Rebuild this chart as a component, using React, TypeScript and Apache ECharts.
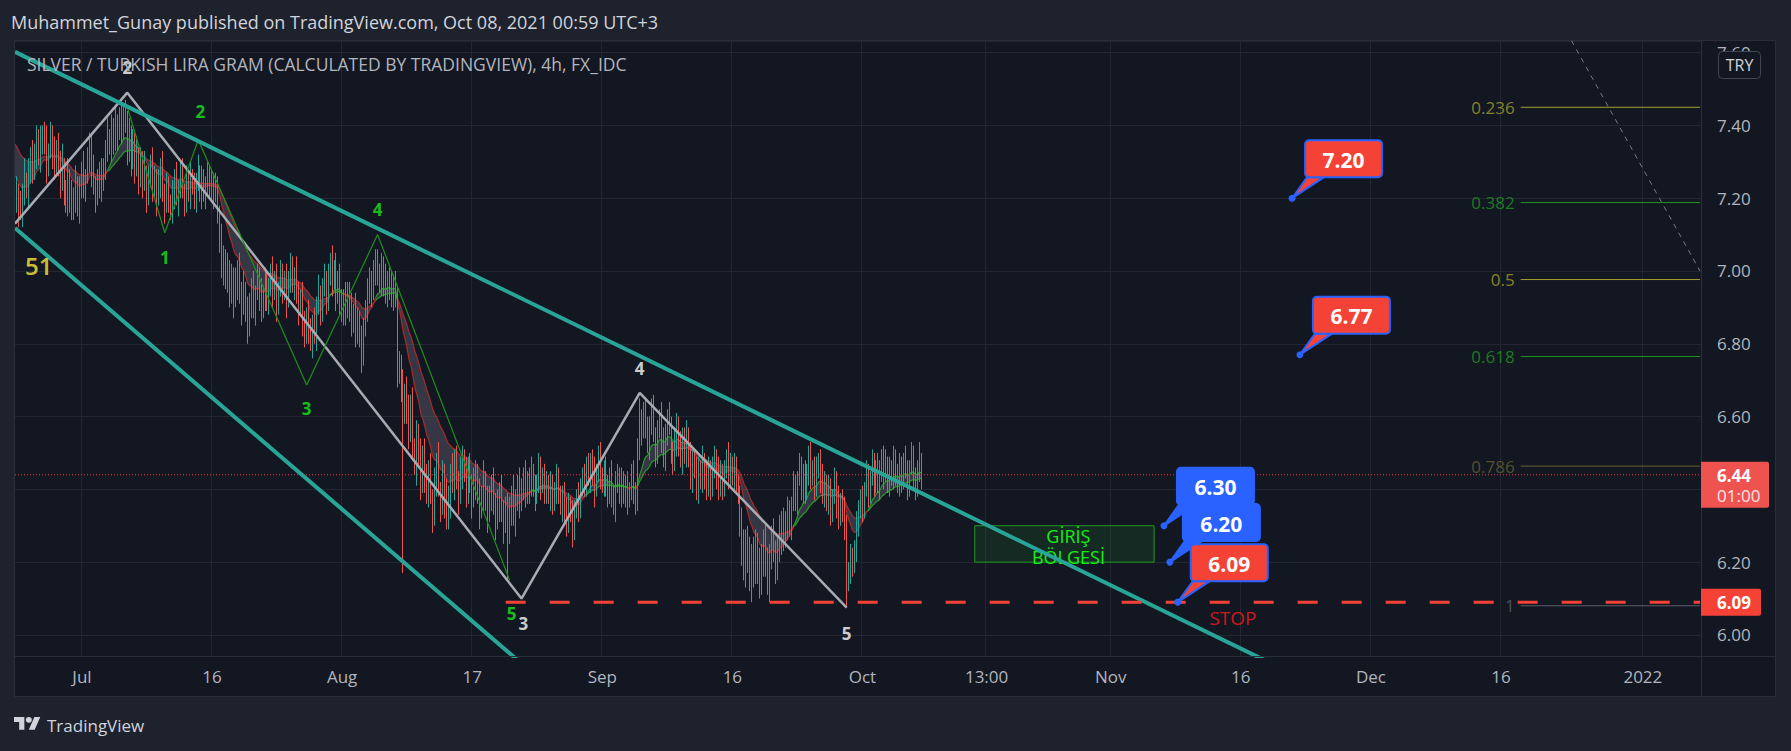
import React, { useEffect, useRef } from "react";
import * as echarts from "echarts";

const FONT = "'Open Sans', 'Noto Sans', sans-serif";

// ---- candle data (hundredths of TRY), 4h bars from 2021-06-23 08:00 ----
const openFirst = 722;
const closeC = [
  719, 722, 717, 716, 721, 725, 722, 727, 731, 728,
  733, 736, 731, 735, 738, 734, 729, 733, 737, 732,
  728, 734, 730, 725, 729, 722, 718, 726, 721, 716,
  720, 724, 718, 722, 727, 723, 726, 730, 735, 728,
  724, 720, 723, 727, 724, 729, 733, 737, 734, 739,
  736, 741, 738, 743, 739, 744, 740, 733, 737, 731,
  735, 728, 732, 726, 730, 724, 727, 721, 725, 729,
  723, 726, 720, 724, 728, 722, 718, 723, 719, 716,
  721, 725, 720, 723, 727, 722, 719, 724, 721, 726,
  723, 720, 724, 727, 722, 725, 721, 724, 726, 722,
  725, 721, 723, 716, 709, 701, 704, 697, 700, 694,
  698, 692, 696, 701, 694, 690, 695, 689, 684, 691,
  695, 690, 694, 698, 693, 689, 694, 697, 692, 696,
  700, 694, 697, 691, 695, 699, 695, 698, 692, 697,
  701, 696, 699, 694, 690, 693, 686, 682, 688, 684,
  680, 686, 683, 690, 694, 689, 695, 698, 692, 699,
  703, 697, 700, 694, 698, 692, 688, 693, 689, 694,
  690, 685, 689, 683, 687, 681, 677, 684, 690, 694,
  698, 694, 699, 703, 700, 696, 701, 697, 693, 698,
  696, 692, 697, 694, 671, 674, 668, 661, 667, 662,
  656, 663, 652, 646, 655, 649, 641, 650, 644, 639,
  645, 638, 633, 642, 647, 640, 636, 644, 638, 632,
  637, 645, 641, 648, 643, 638, 644, 649, 645, 640,
  646, 642, 637, 641, 645, 639, 634, 638, 643, 637,
  633, 638, 642, 636, 631, 635, 640, 634, 630, 636,
  628, 634, 639, 632, 637, 642, 636, 640, 644, 639,
  643, 640, 645, 641, 638, 642, 646, 641, 644, 639,
  642, 638, 641, 636, 640, 643, 639, 635, 638, 634,
  631, 636, 633, 629, 634, 638, 635, 640, 644, 641,
  646, 643, 648, 644, 640, 645, 649, 644, 641, 645,
  642, 638, 643, 639, 636, 641, 644, 639, 642, 638,
  641, 637, 640, 644, 640, 636, 651, 660, 656, 661,
  657, 652, 658, 662, 655, 650, 656, 660, 654, 649,
  655, 660, 657, 651, 647, 653, 658, 652, 648, 654,
  650, 655, 648, 643, 649, 645, 640, 646, 642, 648,
  644, 640, 646, 641, 645, 649, 644, 640, 645, 641,
  645, 649, 644, 647, 643, 646, 642, 638, 631, 624,
  618, 626, 621, 615, 622, 617, 625, 619, 614, 621,
  626, 620, 614, 622, 628, 623, 618, 625, 630, 626,
  632, 628, 634, 630, 636, 641, 637, 643, 646, 640,
  644, 639, 645, 649, 643, 646, 641, 645, 648, 643,
  639, 642, 636, 640, 634, 638, 642, 636, 632, 637,
  634, 630, 615, 618, 621, 619, 624, 630, 634, 638,
  635, 640, 644, 639, 643, 647, 642, 646, 641, 645,
  649, 644, 647, 642, 646, 643, 648, 645, 641, 646,
  643, 648, 645, 641, 646, 649, 644, 640, 645, 648, 644,
];
const upWick = [
  3,4,2,5,3,6,2,4,3,5, 2,4,3,5,2,3,6,2,4,3, 5,2,4,3,6,2,3,5,2,4, 3,5,2,4,3,6,2,4,3,3,
  4,2,5,3,4,2,3,5,2,4, 3,4,2,2,3,2,3,4,5,3, 4,3,5,2,4,3,6,2,4,3, 5,3,2,4,3,5,2,4,3,2,
  4,3,5,2,3,4,2,5,3,4, 2,4,3,5,2,4,3,2,4,3, 3,2,4,3,2,4,3,2,5,3, 4,3,5,2,4,3,5,2,4,3,
  3,5,2,4,3,5,2,4,3,2, 2,4,3,5,2,4,3,2,4,3, 4,3,2,5,3,2,4,3,2,4, 3,2,4,3,5,2,3,4,2,3,
  2,4,3,5,2,4,3,2,4,3, 3,4,2,5,3,2,4,3,2,4, 3,2,4,3,3,2,4,3,5,2, 3,4,2,3,2,4,3,5,2,4,
  4,3,5,2,4,3,5,2,4,3, 3,5,2,4,3,6,2,4,3,5, 4,2,5,3,4,2,5,3,2,4, 3,4,2,5,3,2,4,3,5,2,
  4,3,2,4,3,5,2,4,3,2, 3,4,2,5,3,2,4,3,2,4, 2,3,4,2,3,2,4,3,2,3, 3,2,4,3,2,4,3,2,3,4,
  4,3,2,4,3,2,4,3,2,3, 3,4,2,3,5,2,3,4,2,3, 4,2,3,5,2,4,3,2,4,3, 3,4,2,3,4,2,3,5,2,3,
  4,3,2,3,4,2,3,2,4,3, 3,2,4,3,2,4,3,2,4,3, 3,4,2,5,3,2,4,3,2,4, 2,4,3,2,4,3,2,5,3,2,
  3,2,4,3,2,4,3,2,3,4, 5,3,4,6,3,5,4,3,5,4, 3,5,4,3,2,4,3,2,3,4, 3,2,4,3,2,4,3,2,4,3,
  3,4,2,3,4,2,3,4,2,3, 4,3,2,4,3,2,4,3,5,2, 3,4,3,2,4,3,2,4,3,2, 3,2,4,3,2,4,3,2,4,3,
  2,3,4,2,3,2,4,3,2,4, 3,2,4,3,2,4,3,2,3,5,2,
];
const downWick = [
  4,3,5,2,4,3,2,5,3,4, 3,5,2,4,3,2,5,3,2,4, 3,2,4,5,3,4,2,3,5,2, 2,4,3,5,2,3,4,2,3,5,
  3,4,2,3,5,2,4,3,2,4, 4,3,5,2,4,3,2,4,3,5, 3,4,2,5,3,4,2,5,3,2, 4,3,5,2,4,3,5,2,3,2,
  3,4,2,5,3,2,4,3,2,4, 2,3,4,2,3,5,2,4,3,2, 3,4,2,3,4,3,5,2,3,4, 3,5,2,4,3,5,2,3,4,2,
  4,3,5,2,4,3,2,5,3,4, 3,4,2,5,3,2,4,3,5,2, 3,2,4,3,5,2,4,3,2,4, 2,4,3,5,2,4,3,2,4,3,
  3,4,2,5,3,4,2,3,4,2, 4,3,2,4,3,2,5,3,2,4, 3,4,2,3,4,2,3,4,2,3, 4,2,3,4,3,2,4,44,3,4,
  5,3,4,2,5,3,4,2,5,3, 4,2,5,3,4,2,5,3,6,3, 3,5,2,4,3,5,2,4,3,5, 4,3,5,2,4,3,5,2,4,3,
  5,2,4,3,5,2,4,3,5,2, 13,3,4,2,5,3,4,2,3,4, 3,4,2,3,4,2,3,4,2,3, 3,2,4,3,2,4,3,2,4,3,
  4,3,2,5,3,2,4,3,2,3, 3,2,4,3,5,2,3,4,2,3, 4,3,2,4,3,5,2,3,4,2, 3,4,2,3,4,3,2,3,4,2,
  3,2,4,3,2,4,3,2,4,3, 4,3,2,4,3,2,4,3,2,4, 3,4,2,3,4,2,3,4,2,3, 4,3,2,4,3,2,4,3,2,4,
  3,2,4,3,2,4,3,2,4,5, 3,5,4,3,6,4,3,5,4,3, 5,4,3,5,4,3,4,3,5,4, 3,4,2,3,4,2,3,4,2,3,
  4,3,2,4,3,2,4,3,2,4, 3,4,2,3,4,3,2,4,3,2, 3,4,7,3,4,3,2,4,3,2, 4,3,2,4,3,2,4,3,2,4,
  3,4,2,3,4,2,3,4,2,3, 4,3,2,4,3,2,4,3,2,3,4,
];

// ribbon (two EMAs of close)
const emaFastLen = 14;
const emaSlowLen = 30;
const emaFastSeed = 7.27;
const emaSlowSeed = 7.36;

// ---- axes ----
const barCount = 856;
const xTickKeys = [
  "2021-07-01 00:00", "2021-07-16 00:00", "2021-08-02 00:00", "2021-08-17 00:00",
  "2021-09-01 00:00", "2021-09-16 00:00", "2021-10-01 00:00", "2021-10-15 12:00",
  "2021-11-01 00:00", "2021-11-16 00:00", "2021-12-01 00:00", "2021-12-16 00:00", "2022-01-03 00:00",
];
const xTickLabels = ["Jul", "16", "Aug", "17", "Sep", "16", "Oct", "13:00", "Nov", "16", "Dec", "16", "2022"];
const yMin = 5.942;
const yMax = 7.632;
const yHiddenLabels = ["6.40"]; // covered by the last-price badge

// ---- drawings (bar index, price) ----
const upperChannel = [[0, 7.602], [640, 5.915]];
const lowerChannel = [[0, 7.118], [256, 5.926]];
const grayWave = [[0, 7.13], [57, 7.49], [257, 6.10], [317, 6.665], [422, 6.075]];
const greenWave = [[57, 7.45], [76, 7.105], [93, 7.36], [148, 6.687], [184, 7.10], [251, 6.15]];
const whiteLabels = [[57, 7.558, "2"], [258, 6.03, "3"], [317, 6.731, "4"], [422, 6.003, "5"]];
const greenLabels = [[76, 7.036, "1"], [94, 7.437, "2"], [148, 6.621, "3"], [184, 7.168, "4"], [252, 6.06, "5"]];
const countLabel = [[12, 7.014, "51"]];
const lastPrice = 6.44;
const stopPrice = 6.09;
const stopStart = 249;
const fibTop = 7.873;
const fibBottom = 6.08;
const fibStart = 764;
const fibLevels = [0.236, 0.382, 0.5, 0.618, 0.786, 1];
const fibColors = ["#a3a12b", "#1e961e", "#a3a12b", "#1e961e", "#67602f", "#5d606b"];
const fibTrend = [[765, 7.873], [855, 7.0]];
const entryZone = { x0: 487, x1: 578, top: 6.3, bottom: 6.2, text: "GİRİŞ\nBÖLGESİ" };
const stopText = [[618, 6.047, "STOP"]];
const callouts = [
  { text: "7.20", x: 648, y: 7.2, kind: "red" },
  { text: "6.77", x: 652, y: 6.77, kind: "red" },
  { text: "6.30", x: 583, y: 6.3, kind: "blue" },
  { text: "6.20", x: 586, y: 6.2, kind: "blue" },
  { text: "6.09", x: 590, y: 6.09, kind: "red" },
];

const TV_LOGO = "M14 22H7V11H0V4h14v18zM28 22h-8l7.5-18h8L28 22zM24 8a4 4 0 1 1-8 0a4 4 0 1 1 8 0z";
let logoRegistered = false;

function pad(n: number) { return n < 10 ? "0" + n : "" + n; }
function buildCategories(n: number) {
  const out: string[] = [];
  let t = Date.UTC(2021, 5, 23, 8);
  while (out.length < n) {
    const d = new Date(t);
    const wd = d.getUTCDay();
    if (wd !== 0 && wd !== 6) {
      out.push(`${d.getUTCFullYear()}-${pad(d.getUTCMonth() + 1)}-${pad(d.getUTCDate())} ${pad(d.getUTCHours())}:00`);
    }
    t += 4 * 3600 * 1000;
  }
  return out;
}

export default function App() {
  const ref = useRef<HTMLDivElement>(null);
  useEffect(() => {
    if (!logoRegistered) {
      echarts.graphic.registerShape("tvlogo", echarts.graphic.extendPath(TV_LOGO, {}) as any);
      logoRegistered = true;
    }
    const chart = echarts.init(ref.current!, null, { renderer: "svg" });
    const cats = buildCategories(barCount);
    const tickMap: Record<string, string> = {};
    xTickKeys.forEach((k, i) => (tickMap[k] = xTickLabels[i]));
    const isTick = (_i: number, v: string) => tickMap[v] !== undefined;

    const candles = closeC.map((c, i) => {
      const o = i === 0 ? openFirst : closeC[i - 1];
      const hi = Math.max(o, c) + upWick[i];
      const lo = Math.min(o, c) - downWick[i];
      return [o / 100, c / 100, lo / 100, hi / 100];
    });
    const ema = (len: number, seed: number) => {
      const a = 2 / (len + 1);
      let e = seed;
      return closeC.map((c) => (e = a * (c / 100) + (1 - a) * e));
    };
    const fast = ema(emaFastLen, emaFastSeed);
    const slow = ema(emaSlowLen, emaSlowSeed);
    const ribBase = fast.map((f, i) => Math.min(f, slow[i]));
    const ribBand = fast.map((f, i) => Math.abs(f - slow[i]));
    const pieces: any[] = [];
    let start = 0;
    for (let i = 1; i <= fast.length; i++) {
      const up0 = fast[start] >= slow[start];
      if (i === fast.length || (fast[i] >= slow[i]) !== up0) {
        pieces.push({ gte: start, lt: i, color: up0 ? "rgba(40,170,40,0.85)" : "rgba(190,40,40,0.85)" });
        start = i;
      }
    }

    const seg = (data: any[], color: string, width: number, type: any = "solid", z = 3) => ({
      type: "line", data, symbol: "none", silent: true, z,
      lineStyle: { color, width, type }, animation: false,
    });
    const textSeries = (data: any[], color: string, size: number, weight: any = "bold") => ({
      type: "scatter", data, symbolSize: 0, silent: true, z: 7,
      label: { show: true, position: "inside", formatter: (p: any) => p.value[2], color, fontSize: size, fontWeight: weight, fontFamily: FONT },
    });

    const fibSeries = fibLevels.map((lv, i) => {
      const p = fibTop - lv * (fibTop - fibBottom);
      return seg([[fibStart, p], [barCount - 1, p]], fibColors[i], 1, "solid", 3);
    });
    const fibLabelSeries = {
      type: "scatter", symbolSize: 0, silent: true, z: 6,
      data: fibLevels.map((lv, i) => ({
        value: [fibStart, fibTop - lv * (fibTop - fibBottom), String(lv)],
        label: { color: fibColors[i] },
      })),
      label: { show: true, position: "left", distance: 6, formatter: (p: any) => p.value[2], fontSize: 17, fontFamily: FONT },
    };

    const series: any[] = [
      { type: "line", data: ribBase, stack: "rib", symbol: "none", silent: true, lineStyle: { opacity: 0 }, z: 1 },
      { type: "line", data: ribBand, stack: "rib", symbol: "none", silent: true, lineStyle: { opacity: 0 }, areaStyle: { color: "rgba(128,131,143,0.45)" }, z: 1 },
      { type: "line", data: fast, symbol: "none", silent: true, lineStyle: { width: 1.2 }, z: 1 },
      { type: "line", data: slow, symbol: "none", silent: true, lineStyle: { width: 1.2 }, z: 1 },
      {
        type: "candlestick", data: candles, barWidth: 1.3, silent: true, z: 2,
        itemStyle: { color: "#26a69a", color0: "#ef5350", borderColor: "#26a69a", borderColor0: "#ef5350", borderWidth: 1 },
      },
      seg([[0, lastPrice], [barCount - 1, lastPrice]], "#f23645", 1, [1, 2], 3),
      ...fibSeries,
      fibLabelSeries,
      seg(fibTrend, "#787b86", 1, [5, 5], 3),
      seg(grayWave, "#a9abb2", 2.5, "solid", 4),
      seg(greenWave, "#1e8f1e", 1.2, "solid", 4),
      seg(upperChannel, "#29a597", 4, "solid", 5),
      seg(lowerChannel, "#29a597", 4, "solid", 5),
      {
        ...seg([[stopStart, stopPrice], [barCount - 1, stopPrice]], "#f44336", 3, [20, 24], 6),
        markArea: {
          silent: true,
          itemStyle: { color: "rgba(46,140,50,0.16)", borderColor: "#1f9a1f", borderWidth: 1 },
          label: { show: true, position: "inside", offset: [4, 3], formatter: entryZone.text, color: "#12f012", fontSize: 18, lineHeight: 21, fontFamily: FONT },
          data: [[{ coord: [entryZone.x0, entryZone.top] }, { coord: [entryZone.x1, entryZone.bottom] }]],
        },
      },
      textSeries(whiteLabels, "#ffffff", 17),
      textSeries(greenLabels, "#1bea1b", 17),
      textSeries(countLabel, "#ffeb3b", 24, 600),
      textSeries(stopText, "#ff1a1a", 19, "normal"),
    ];

    const option: any = {
      animation: false,
      backgroundColor: "transparent",
      grid: { left: 14, top: 41, right: 90, bottom: 95, containLabel: false },
      xAxis: {
        type: "category", data: cats, boundaryGap: true,
        axisLine: { show: false }, axisTick: { show: false },
        axisLabel: { interval: isTick, formatter: (v: string) => tickMap[v] || "", color: "#b2b5be", fontSize: 17, fontFamily: FONT, margin: 12 },
        splitLine: { show: true, interval: isTick, lineStyle: { color: "#232734", width: 1 } },
      },
      yAxis: {
        type: "value", position: "right", min: yMin, max: yMax, splitNumber: 8, minInterval: 0.2, maxInterval: 0.2,
        axisLine: { show: false }, axisTick: { show: false },
        axisLabel: {
          color: "#b2b5be", fontSize: 17, fontFamily: FONT, margin: 16, showMinLabel: false, showMaxLabel: false,
          formatter: (v: number) => (yHiddenLabels.includes(v.toFixed(2)) ? "" : v.toFixed(2)),
        },
        splitLine: { lineStyle: { color: "#232734", width: 1 } },
      },
      visualMap: [{ type: "piecewise", show: false, dimension: 0, seriesIndex: [2, 3], pieces }],
      series,
    };
    chart.setOption(option);

    const P = (x: number, y: number) => chart.convertToPixel({ xAxisIndex: 0, yAxisIndex: 0 }, [x, y]) as number[];
    const g: any[] = [];
    // frame
    g.push({ type: "rect", z: 50, shape: { x: 14.5, y: 40.5, width: 1761, height: 656 }, style: { fill: "none", stroke: "#2a2e39", lineWidth: 1 } });
    g.push({ type: "line", z: 50, shape: { x1: 1701.5, y1: 41, x2: 1701.5, y2: 697 }, style: { stroke: "#2a2e39", lineWidth: 1 } });
    g.push({ type: "line", z: 50, shape: { x1: 14, y1: 656.5, x2: 1775, y2: 656.5 }, style: { stroke: "#2a2e39", lineWidth: 1 } });
    // header + title
    g.push({ type: "text", z: 60, x: 11, y: 22, style: { text: "Muhammet_Gunay published on TradingView.com, Oct 08, 2021 00:59 UTC+3", fill: "#d1d4dc", fontSize: 18, fontFamily: FONT, verticalAlign: "middle" } });
    g.push({ type: "text", z: 60, x: 27, y: 64, style: { text: "SILVER / TURKISH LIRA GRAM (CALCULATED BY TRADINGVIEW), 4h, FX_IDC", fill: "#b2b5be", fontSize: 17.5, fontFamily: FONT, verticalAlign: "middle" } });
    // TRY box
    g.push({ type: "rect", z: 60, shape: { x: 1718.5, y: 51.5, width: 42, height: 27, r: 4 }, style: { fill: "#131722", stroke: "#434651", lineWidth: 1 } });
    g.push({ type: "text", z: 61, x: 1739.5, y: 65, style: { text: "TRY", fill: "#d1d4dc", fontSize: 16, fontFamily: FONT, align: "center", verticalAlign: "middle" } });
    // last price badge
    const yl = P(0, lastPrice)[1];
    g.push({ type: "rect", z: 60, shape: { x: 1701, y: yl - 13, width: 68, height: 46, r: [0, 2, 2, 0] }, style: { fill: "#ef5350" } });
    g.push({ type: "text", z: 61, x: 1717, y: yl + 1, style: { text: "6.44", fill: "#ffffff", fontSize: 17, fontWeight: "bold", fontFamily: FONT, verticalAlign: "middle" } });
    g.push({ type: "text", z: 61, x: 1717, y: yl + 21, style: { text: "01:00", fill: "#fde4e4", fontSize: 17, fontFamily: FONT, verticalAlign: "middle" } });
    // stop badge
    const ys = P(0, stopPrice)[1];
    g.push({ type: "rect", z: 60, shape: { x: 1701, y: ys - 13.5, width: 60, height: 27, r: [0, 2, 2, 0] }, style: { fill: "#f44336" } });
    g.push({ type: "text", z: 61, x: 1717, y: ys, style: { text: "6.09", fill: "#ffffff", fontSize: 17, fontWeight: "bold", fontFamily: FONT, verticalAlign: "middle" } });
    // callouts
    callouts.forEach((c, i) => {
      const [px, py] = P(c.x, c.y);
      const fill = c.kind === "red" ? "#f44336" : "#2962ff";
      const z = 70 + i * 3;
      const bx = px + 13, by = py - 58, bw = 77, bh = 37;
      g.push({ type: "polygon", z, shape: { points: [[px, py], [px + 15, by + bh], [px + 32, by + bh]] }, style: { fill, stroke: "#2962ff", lineWidth: 2 } });
      g.push({ type: "rect", z: z + 1, shape: { x: bx, y: by, width: bw, height: bh, r: 4 }, style: { fill, stroke: "#2962ff", lineWidth: 2 } });
      g.push({ type: "text", z: z + 2, x: bx + bw / 2, y: by + bh / 2 + 1, style: { text: c.text, fill: "#ffffff", fontSize: 21, fontWeight: "bold", fontFamily: FONT, align: "center", verticalAlign: "middle" } });
      g.push({ type: "circle", z: z + 2, shape: { cx: px, cy: py, r: 3.5 }, style: { fill: "#2962ff" } });
    });
    // footer logo
    g.push({ type: "tvlogo", z: 60, x: 14, y: 714, scaleX: 0.74, scaleY: 0.72, style: { fill: "#d1d4dc" } });
    g.push({ type: "text", z: 60, x: 47, y: 725, style: { text: "TradingView", fill: "#d1d4dc", fontSize: 17, fontFamily: FONT, verticalAlign: "middle" } });
    chart.setOption({ graphic: g });

    return () => chart.dispose();
  }, []);

  return (
    <div style={{ position: "fixed", left: 0, top: 0, width: 1791, height: 751, background: "#1e222d", overflow: "hidden" }}>
      <div style={{ position: "absolute", left: 14, top: 41, width: 1761, height: 656, background: "#131722" }} />
      <div ref={ref} style={{ position: "absolute", left: 0, top: 0, width: 1791, height: 751 }} />
    </div>
  );
}
